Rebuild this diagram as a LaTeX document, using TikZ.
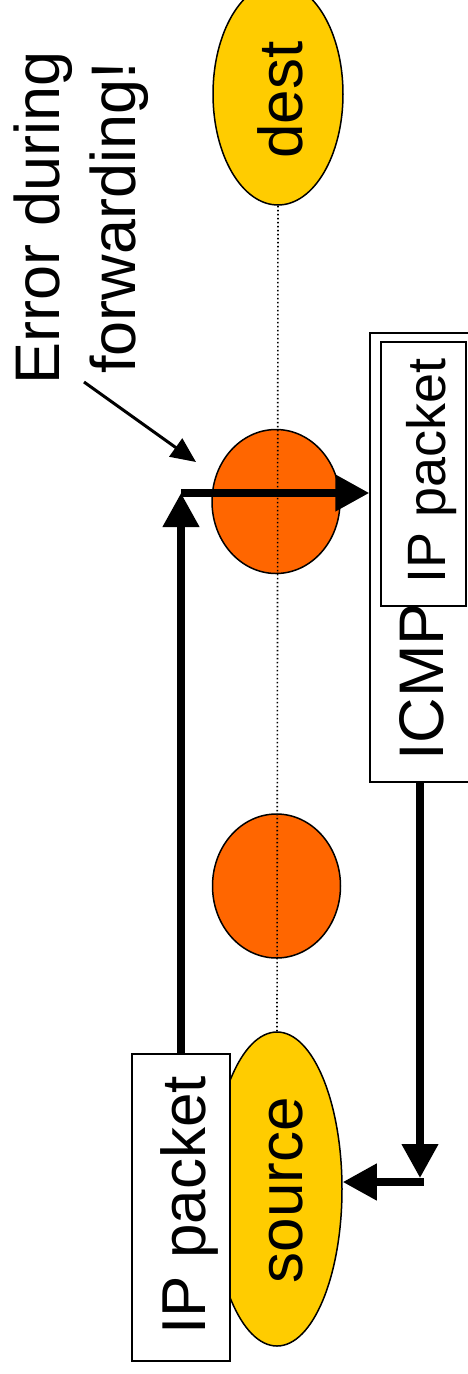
\documentclass[tikz,border=0pt]{standalone}
\usepackage{fontspec}
\setmainfont{Liberation Sans}
\usetikzlibrary{shapes.geometric,arrows.meta}
\definecolor{hostyellow}{HTML}{FFCC00}
\definecolor{routerorange}{HTML}{FF6600}
\tikzset{
  hostnode/.style={ellipse,draw=black,line width=1.5pt,fill=hostyellow,inner sep=0pt},
  routernode/.style={ellipse,draw=black,line width=1.5pt,fill=routerorange,inner sep=0pt,minimum width=128pt,minimum height=144pt},
  pktbox/.style={rectangle,draw=black,line width=1.4pt,fill=white,inner sep=0pt},
  lbl/.style={rotate=90,inner sep=0pt,font=\fontsize{62}{74}\selectfont},
  biglink/.style={line width=7.5pt,-{Triangle[length=34pt,width=35pt]}},
  thinlink/.style={line width=3pt,-{Triangle[length=25pt,width=22pt]}},
  pathline/.style={line width=1.6pt,dash pattern=on 1.6pt off 2.4pt},
}
\begin{document}
\begin{tikzpicture}[x=1pt,y=-1pt]
\useasboundingbox (0,0) rectangle (467,1374);
% hosts and routers
\node[hostnode,minimum width=130pt,minimum height=222pt] (dest) at (278,94) {};
\node[routernode] (r1) at (276,501.5) {};
\node[routernode] (r2) at (276.5,886) {};
\node[hostnode,minimum width=130pt,minimum height=314pt] (source) at (277,1189) {};
\draw[pathline] (dest.south) -- (source.north);
\node[lbl,anchor=base] (desttxt) at (302,100) {dest};
\node[lbl,anchor=base] (srctxt) at (302,1190) {source};
% IP packet box at source
\node[pktbox,minimum width=98pt,minimum height=307pt] (srcbox) at (181,1207.5) {};
\node[lbl,anchor=base] (srcboxtxt) at (205,1205) {IP packet};
% ICMP box
\node[pktbox,minimum width=112pt,minimum height=449pt] (icmpbox) at (426,557.5) {};
\node[lbl,anchor=base west,font=\fontsize{63}{74}\selectfont] (icmptxt) at (443,761) {ICMP};
\node[pktbox,minimum width=85pt,minimum height=264pt] (innerbox) at (423.5,474) {};
\node[lbl,anchor=base,font=\fontsize{54}{64}\selectfont] (innertxt) at (445,471) {IP packet};
% error text
\node[lbl,align=center,font=\fontsize{63}{76}\selectfont] (errtxt) at (81,218) {Error during\\forwarding!};
\coordinate (errtail) at (84,382);
\coordinate (errtip) at (196,462);
\draw[thinlink] (errtail) -- (errtip);
% packet path
\coordinate (turn1) at (181,493);
\draw[biglink] (srcbox.north) -- (turn1);
\draw[biglink] (turn1) -- (icmpbox.west |- turn1);
\coordinate (turn2) at (420,1182);
\draw[biglink] (icmpbox.south -| turn2) -- ([yshift=4pt]turn2);
\draw[biglink] ([xshift=3.75pt]turn2) -- (source.east |- turn2);
\end{tikzpicture}
\end{document}
